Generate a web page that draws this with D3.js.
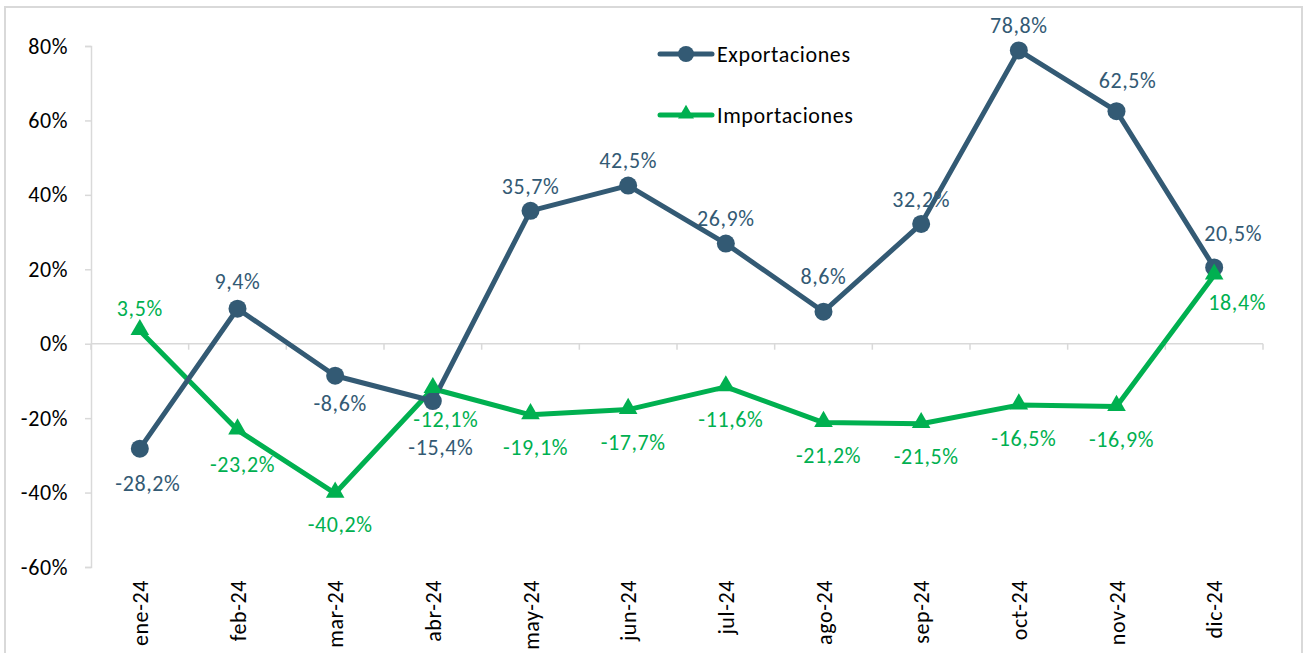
<!DOCTYPE html>
<html>
<head>
<meta charset="utf-8">
<script src="https://cdn.jsdelivr.net/npm/d3@7"></script>
<style>
  body { margin: 0; background: #fff; }
  svg text { font-family: Calibri, Carlito, Lato, "Open Sans", sans-serif; letter-spacing: 0.6px; }
</style>
</head>
<body>
<svg id="chart" width="1306" height="653"></svg>
<script>
let months = ["ene-24", "feb-24", "mar-24", "abr-24", "may-24", "jun-24", "jul-24", "ago-24", "sep-24", "oct-24", "nov-24", "dic-24"]
let exportaciones = [-28.2, 9.4, -8.6, -15.4, 35.7, 42.5, 26.9, 8.6, 32.2, 78.8, 62.5, 20.5]
let importaciones = [3.5, -23.2, -40.2, -12.1, -19.1, -17.7, -11.6, -21.2, -21.5, -16.5, -16.9, 18.4]
let yTicks = [80, 60, 40, 20, 0, -20, -40, -60]

// label placement (layout only): dx, dy of the text centre from the point
let expOff = [[8, 35], [0, -27], [5, 28], [8, 46], [0, -25], [0, -25], [0, -25], [0, -35], [0, -25], [0, -25], [11, -31], [19, -34]]
let impOff = [[0, -22], [5, 34], [5, 31], [13, 31], [5, 33], [5, 33], [5, 32], [5, 33], [5, 33], [5, 33], [5, 33], [23, 27]]

let expColor = "#335a74"
let impColor = "#00b050"
let axisColor = "#d9d9d9"
let fs = 22

let svg = d3.select("#chart")

svg.append("rect")
    .attr("x", 5).attr("y", 7)
    .attr("width", 1297).attr("height", 660)
    .attr("fill", "none")
    .attr("stroke", axisColor)
    .attr("stroke-width", 2)

let x = d3.scaleBand().domain(months).range([91, 1263])
let y = d3.scaleLinear().domain([-60, 80]).range([567, 46])

let fmt = v => (v.toFixed(1)).replace(".", ",") + "%"

// y axis
let yAxis = svg.append("g").attr("transform", "translate(91,0)")
    .call(d3.axisLeft(y).tickValues(yTicks).tickSize(6).tickPadding(17).tickFormat(d => d + "%"))
yAxis.select(".domain").attr("stroke", axisColor).attr("stroke-width", 1.5)
yAxis.selectAll(".tick line").attr("stroke", axisColor).attr("stroke-width", 1.5)
yAxis.selectAll("text").attr("font-size", fs).attr("fill", "#000")

// zero line with category ticks
let xAxis = svg.append("g").attr("transform", "translate(0," + y(0) + ")")
xAxis.append("line")
    .attr("x1", 91).attr("x2", 1263)
    .attr("stroke", axisColor).attr("stroke-width", 1.5)
xAxis.selectAll("line.tk")
    .data(d3.range(13))
    .enter()
    .append("line")
    .attr("class", "tk")
    .attr("x1", i => 91 + i * x.bandwidth())
    .attr("x2", i => 91 + i * x.bandwidth())
    .attr("y1", 0).attr("y2", 6)
    .attr("stroke", axisColor).attr("stroke-width", 1.5)

// month labels, rotated
svg.selectAll("text.month")
    .data(months)
    .enter()
    .append("text")
    .attr("class", "month")
    .attr("transform", d => "translate(" + (x(d) + x.bandwidth() / 2 + 8) + ",580) rotate(-90)")
    .attr("text-anchor", "end")
    .attr("font-size", fs)
    .attr("fill", "#000")
    .text(d => d)

let cx = (d, i) => x(months[i]) + x.bandwidth() / 2

let line = d3.line().x((d, i) => cx(d, i)).y(d => y(d))

// importaciones
svg.append("path")
    .attr("d", line(importaciones))
    .attr("fill", "none")
    .attr("stroke", impColor)
    .attr("stroke-width", 5)
    .attr("stroke-linejoin", "round")

// exportaciones
svg.append("path")
    .attr("d", line(exportaciones))
    .attr("fill", "none")
    .attr("stroke", expColor)
    .attr("stroke-width", 5)
    .attr("stroke-linejoin", "round")

svg.selectAll("circle.exp")
    .data(exportaciones)
    .enter()
    .append("circle")
    .attr("class", "exp")
    .attr("cx", cx)
    .attr("cy", d => y(d))
    .attr("r", 9)
    .attr("fill", expColor)

let tri = d3.symbol().type(d3.symbolTriangle).size(150)
svg.selectAll("path.imp")
    .data(importaciones)
    .enter()
    .append("path")
    .attr("class", "imp")
    .attr("d", tri)
    .attr("transform", (d, i) => "translate(" + cx(d, i) + "," + (y(d) - 1) + ")")
    .attr("fill", impColor)

// data labels
svg.selectAll("text.lexp")
    .data(exportaciones)
    .enter()
    .append("text")
    .attr("class", "lexp")
    .attr("x", (d, i) => cx(d, i) + expOff[i][0])
    .attr("y", (d, i) => y(d) + expOff[i][1])
    .attr("dy", "0.35em")
    .attr("text-anchor", "middle")
    .attr("font-size", fs)
    .attr("fill", expColor)
    .text(fmt)

svg.selectAll("text.limp")
    .data(importaciones)
    .enter()
    .append("text")
    .attr("class", "limp")
    .attr("x", (d, i) => cx(d, i) + impOff[i][0])
    .attr("y", (d, i) => y(d) + impOff[i][1])
    .attr("dy", "0.35em")
    .attr("text-anchor", "middle")
    .attr("font-size", fs)
    .attr("fill", impColor)
    .text(fmt)

// legend
let legend = [["Exportaciones", expColor, "circle", 54], ["Importaciones", impColor, "tri", 115]]
legend.forEach(l => {
    let g = svg.append("g")
    g.append("line")
        .attr("x1", 660).attr("x2", 712)
        .attr("y1", l[3]).attr("y2", l[3])
        .attr("stroke", l[1]).attr("stroke-width", 5)
        .attr("stroke-linecap", "round")
    if (l[2] == "circle") {
        g.append("circle").attr("cx", 686).attr("cy", l[3]).attr("r", 8).attr("fill", l[1])
    } else {
        g.append("path").attr("d", d3.symbol().type(d3.symbolTriangle).size(110))
            .attr("transform", "translate(686," + (l[3] - 1) + ")")
            .attr("fill", l[1])
    }
    g.append("text")
        .attr("x", 717).attr("y", l[3])
        .attr("dy", "0.35em")
        .attr("font-size", fs)
        .attr("fill", "#000")
        .text(l[0])
})
</script>
</body>
</html>
